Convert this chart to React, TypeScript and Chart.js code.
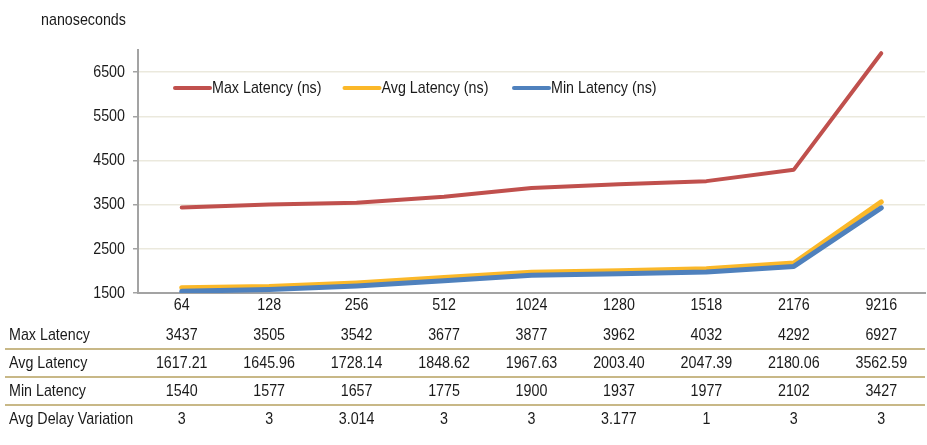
import React, { useEffect, useRef } from "react";
import { Chart, registerables } from "chart.js";

Chart.register(...registerables);

const categories = ["64", "128", "256", "512", "1024", "1280", "1518", "2176", "9216"];
const maxLatency = [3437, 3505, 3542, 3677, 3877, 3962, 4032, 4292, 6927];
const avgLatency = [1617.21, 1645.96, 1728.14, 1848.62, 1967.63, 2003.4, 2047.39, 2180.06, 3562.59];
const minLatency = [1540, 1577, 1657, 1775, 1900, 1937, 1977, 2102, 3427];
const avgDelayVariation = ["3", "3", "3.014", "3", "3", "3.177", "1", "3", "3"];
const yTicks = [1500, 2500, 3500, 4500, 5500, 6500];
const seriesNames = ["Max Latency (ns)", "Avg Latency (ns)", "Min Latency (ns)"];
const tableRowLabels = ["Max Latency", "Avg Latency", "Min Latency", "Avg Delay Variation"];
const yAxisTitle = "nanoseconds";

const COLORS = ["#c0504d", "#fbb829", "#4f81bd"];
const FONT = '"Liberation Sans", Arial, sans-serif';
const FONT_SIZE = 17;
const SX = 0.84; // horizontal condensing of text
const TEXT = "#1a1a1a";

const tableRows: string[][] = [
  maxLatency.map((v) => String(v)),
  avgLatency.map((v) => v.toFixed(2)),
  minLatency.map((v) => String(v)),
  avgDelayVariation,
];

function drawText(ctx: CanvasRenderingContext2D, text: string, x: number, y: number, align: CanvasTextAlign) {
  ctx.save();
  ctx.translate(x, y);
  ctx.scale(SX, 1);
  ctx.textAlign = align;
  ctx.fillText(text, 0, 0);
  ctx.restore();
}

const overlayPlugin = {
  id: "overlay",
  afterDraw(chart: any) {
    const ctx = chart.ctx as CanvasRenderingContext2D;
    const area = chart.chartArea;
    const xs = chart.scales.x;
    const ys = chart.scales.y;
    ctx.save();
    ctx.font = `${FONT_SIZE}px ${FONT}`;
    ctx.fillStyle = TEXT;
    ctx.textBaseline = "middle";

    // axis title
    drawText(ctx, yAxisTitle, 41, 20, "left");

    // y tick labels
    yTicks.forEach((v) => {
      drawText(ctx, String(v), area.left - 13, ys.getPixelForValue(v), "right");
    });

    // x tick labels
    categories.forEach((c, i) => {
      drawText(ctx, c, xs.getPixelForValue(i), area.bottom + 12, "center");
    });

    // legend inside plot
    const ly = area.top + 38;
    seriesNames.forEach((name, i) => {
      const lx = area.left + 35 + i * 169.5;
      ctx.strokeStyle = COLORS[i];
      ctx.lineWidth = 4;
      ctx.lineCap = "round";
      ctx.beginPath();
      ctx.moveTo(lx + 2, ly);
      ctx.lineTo(lx + 37, ly);
      ctx.stroke();
      ctx.fillStyle = TEXT;
      drawText(ctx, name, lx + 39, ly, "left");
    });

    // data table
    const rowH = 28;
    const firstY = area.bottom + 42;
    tableRows.forEach((row, r) => {
      const y = firstY + r * rowH;
      ctx.fillStyle = TEXT;
      drawText(ctx, tableRowLabels[r], 9, y, "left");
      row.forEach((txt, i) => {
        drawText(ctx, txt, xs.getPixelForValue(i), y, "center");
      });
      if (r < tableRows.length - 1) {
        ctx.strokeStyle = "#c8b887";
        ctx.lineWidth = 2;
        ctx.lineCap = "butt";
        ctx.beginPath();
        ctx.moveTo(5, y + 14);
        ctx.lineTo(area.right, y + 14);
        ctx.stroke();
      }
    });
    ctx.restore();
  },
};

export default function App() {
  const ref = useRef<HTMLCanvasElement | null>(null);
  useEffect(() => {
    if (!ref.current) return;
    const mk = (label: string, data: number[], color: string, width: number, order: number) => ({
      label,
      data,
      borderColor: color,
      backgroundColor: color,
      borderWidth: width,
      pointRadius: 0,
      tension: 0,
      borderCapStyle: "round" as const,
      borderJoinStyle: "round" as const,
      order,
    });
    const chart = new Chart(ref.current, {
      type: "line",
      data: {
        labels: categories,
        datasets: [
          mk(seriesNames[0], maxLatency, COLORS[0], 4, 2),
          mk(seriesNames[1], avgLatency, COLORS[1], 5, 1),
          mk(seriesNames[2], minLatency, COLORS[2], 5, 0),
        ],
      },
      options: {
        responsive: false,
        animation: false,
        devicePixelRatio: 1,
        layout: { padding: { top: 50, left: 0, right: 2, bottom: 132 } },
        plugins: { legend: { display: false }, tooltip: { enabled: false } },
        scales: {
          x: {
            offset: true,
            grid: { display: false, drawTicks: false },
            border: { display: true, color: "#a3a3a3", width: 2 },
            ticks: { display: false, autoSkip: false },
            afterFit: (s: any) => {
              s.height = 20;
            },
          },
          y: {
            min: 1500,
            max: 7000,
            afterBuildTicks: (s: any) => {
              s.ticks = yTicks.map((v) => ({ value: v }));
            },
            afterFit: (s: any) => {
              s.width = 138;
            },
            grid: { color: "#ebe9dd", lineWidth: 1.5, tickLength: 5, tickColor: "#a3a3a3", tickWidth: 1.5 } as any,
            border: { display: true, color: "#a3a3a3", width: 2 },
            ticks: { display: false },
          },
        },
      },
      plugins: [overlayPlugin],
    });
    return () => chart.destroy();
  }, []);
  return (
    <div style={{ position: "absolute", left: 0, top: 0, width: 927, height: 445, background: "#fff" }}>
      <canvas ref={ref} width={927} height={445} style={{ width: 927, height: 445, display: "block" }} />
    </div>
  );
}
